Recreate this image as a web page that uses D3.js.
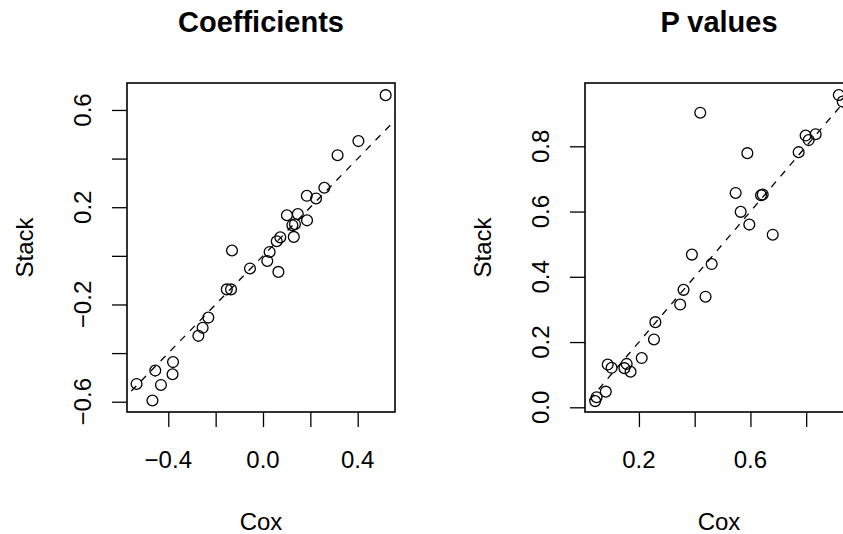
<!DOCTYPE html>
<html>
<head>
<meta charset="utf-8">
<script src="https://cdn.jsdelivr.net/npm/d3@7"></script>
<style>
  body { margin: 0; background: #fff; }
  svg { display: block; }
  text { font-family: "Liberation Sans", Arial, Helvetica, sans-serif; fill: #000; }
</style>
</head>
<body>
<div class="chart"></div>
<script>
// Coefficients panel: Cox estimate vs stacked estimate
var coefCox = [0.518, 0.403, 0.315, 0.259, 0.185, 0.224, 0.101, 0.147, 0.186, 0.124, 0.135,
  0.130, 0.073, 0.058, 0.028, 0.018, 0.065, -0.131, -0.055, -0.153, -0.135, -0.231,
  -0.255, -0.273, -0.380, -0.382, -0.455, -0.431, -0.534, -0.467];
var coefStack = [0.661, 0.472, 0.414, 0.280, 0.247, 0.236, 0.167, 0.172, 0.146, 0.126, 0.130,
  0.078, 0.076, 0.060, 0.016, -0.021, -0.066, 0.022, -0.052, -0.138, -0.138, -0.254,
  -0.296, -0.329, -0.437, -0.487, -0.472, -0.531, -0.527, -0.595];

// P values panel
var pvalCox = [0.917, 0.931, 0.420, 0.798, 0.809, 0.834, 0.773, 0.589, 0.547, 0.644, 0.638,
  0.565, 0.596, 0.680, 0.390, 0.461, 0.360, 0.348, 0.439, 0.259, 0.254, 0.210,
  0.156, 0.148, 0.170, 0.088, 0.102, 0.081, 0.043, 0.048];
var pvalStack = [0.957, 0.937, 0.903, 0.833, 0.819, 0.837, 0.782, 0.779, 0.657, 0.652, 0.650,
  0.599, 0.560, 0.529, 0.468, 0.439, 0.360, 0.315, 0.339, 0.261, 0.208, 0.151,
  0.133, 0.120, 0.109, 0.131, 0.121, 0.048, 0.019, 0.031];

// axis ticks and which of them carry a label
var coefXTicks = [-0.4, -0.2, 0.0, 0.2, 0.4];
var coefXLabels = [-0.4, 0.0, 0.4];
var coefYTicks = [-0.6, -0.4, -0.2, 0.0, 0.2, 0.4, 0.6];
var coefYLabels = [-0.6, -0.2, 0.2, 0.6];
var pvalXTicks = [0.2, 0.4, 0.6, 0.8];
var pvalXLabels = [0.2, 0.6];
var pvalYTicks = [0.0, 0.2, 0.4, 0.6, 0.8];
var pvalYLabels = [0.0, 0.2, 0.4, 0.6, 0.8];

var svgWidth = 843;
var svgHeight = 534;

var svg = d3.select(".chart")
  .append("svg")
  .attr("width", svgWidth)
  .attr("height", svgHeight);

var fmt = function(v) {
  return d3.format(".1f")(Math.abs(v) < 1e-9 ? 0 : v).replace("-", "\u2212");
};

function drawPanel(opts) {
  var box = opts.box;
  var x = d3.scaleLinear().domain(opts.xDomain).range([box.left, box.right]);
  var y = d3.scaleLinear().domain(opts.yDomain).range([box.bottom, box.top]);

  var clipId = "clip-" + opts.id;
  svg.append("clipPath").attr("id", clipId)
    .append("rect")
    .attr("x", box.left).attr("y", box.top)
    .attr("width", box.right - box.left)
    .attr("height", box.bottom - box.top);

  var g = svg.append("g");

  // x axis
  var xAxis = d3.axisBottom(x)
    .tickValues(opts.xTicks)
    .tickSize(15)
    .tickFormat("");
  var xg = g.append("g")
    .attr("transform", `translate(0, ${box.bottom})`)
    .call(xAxis);
  xg.select(".domain").remove();
  xg.selectAll(".tick line").attr("stroke", "#000").attr("stroke-width", 1.3);

  g.selectAll(".xlab")
    .data(opts.xLabels)
    .enter()
    .append("text")
    .attr("x", d => x(d))
    .attr("y", box.bottom + 56)
    .attr("text-anchor", "middle")
    .style("font-size", "24px")
    .text(fmt);

  // y axis
  var yAxis = d3.axisLeft(y)
    .tickValues(opts.yTicks)
    .tickSize(15)
    .tickFormat("");
  var yg = g.append("g")
    .attr("transform", `translate(${box.left}, 0)`)
    .call(yAxis);
  yg.select(".domain").remove();
  yg.selectAll(".tick line").attr("stroke", "#000").attr("stroke-width", 1.3);

  g.selectAll(".ylab")
    .data(opts.yLabels)
    .enter()
    .append("text")
    .attr("transform", d => `translate(${box.left - 36}, ${y(d)}) rotate(-90)`)
    .attr("text-anchor", "middle")
    .style("font-size", "24px")
    .text(fmt);

  // dashed identity line
  g.append("line")
    .attr("clip-path", `url(#${clipId})`)
    .attr("x1", x(-2)).attr("y1", y(-2))
    .attr("x2", x(2)).attr("y2", y(2))
    .attr("stroke", "#000")
    .attr("stroke-width", 1.3)
    .attr("stroke-dasharray", "7,7");

  // points
  g.append("g")
    .attr("clip-path", `url(#${clipId})`)
    .selectAll("circle")
    .data(opts.xs)
    .enter()
    .append("circle")
    .attr("cx", d => x(d))
    .attr("cy", (d, i) => y(opts.ys[i]))
    .attr("r", 5.4)
    .attr("fill", "none")
    .attr("stroke", "#000")
    .attr("stroke-width", 1.3);

  // box
  g.append("rect")
    .attr("x", box.left).attr("y", box.top)
    .attr("width", box.right - box.left)
    .attr("height", box.bottom - box.top)
    .attr("fill", "none")
    .attr("stroke", "#000")
    .attr("stroke-width", 1.6);

  // title and axis titles
  var cx = (box.left + box.right) / 2;
  g.append("text")
    .attr("x", cx)
    .attr("y", 32)
    .attr("text-anchor", "middle")
    .style("font-size", "29px")
    .style("font-weight", "bold")
    .text(opts.title);

  g.append("text")
    .attr("x", cx)
    .attr("y", 530)
    .attr("text-anchor", "middle")
    .style("font-size", "24px")
    .text("Cox");

  g.append("text")
    .attr("transform", `translate(${box.left - 94}, ${(box.top + box.bottom) / 2}) rotate(-90)`)
    .attr("text-anchor", "middle")
    .style("font-size", "24px")
    .text("Stack");
}

drawPanel({
  id: "coef",
  title: "Coefficients",
  box: { left: 127, right: 395, top: 83, bottom: 412 },
  xDomain: [-0.5744, 0.5575],
  yDomain: [-0.6423, 0.7109],
  xs: coefCox, ys: coefStack,
  xTicks: coefXTicks, xLabels: coefXLabels,
  yTicks: coefYTicks, yLabels: coefYLabels
});

drawPanel({
  id: "pval",
  title: "P values",
  box: { left: 585, right: 853, top: 83, bottom: 412 },
  xDomain: [0.0065, 0.968],
  yDomain: [-0.0144, 0.994],
  xs: pvalCox, ys: pvalStack,
  xTicks: pvalXTicks, xLabels: pvalXLabels,
  yTicks: pvalYTicks, yLabels: pvalYLabels
});
</script>
</body>
</html>
